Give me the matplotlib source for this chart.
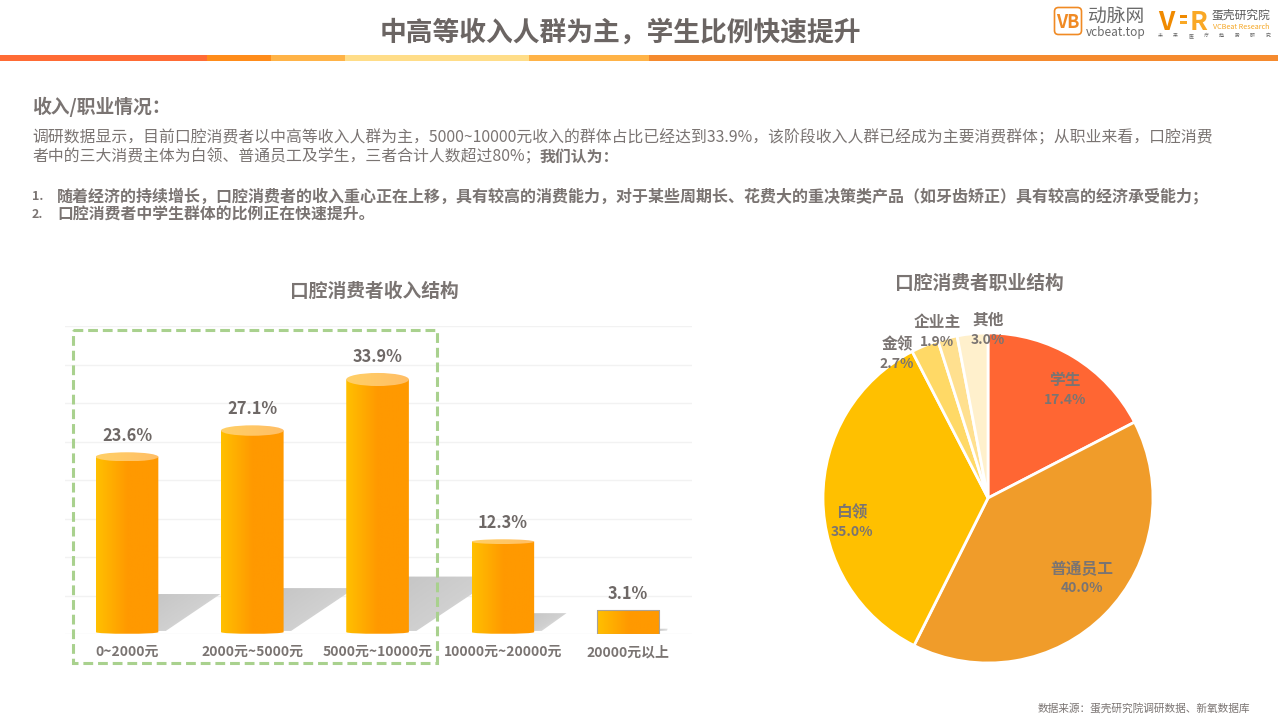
import numpy as np
import matplotlib
matplotlib.use("Agg")
import matplotlib.pyplot as plt
from matplotlib.patches import PathPatch, Ellipse, Rectangle, Polygon, FancyBboxPatch
from matplotlib.path import Path
from matplotlib.colors import LinearSegmentedColormap

plt.rcParams['font.family'] = ['Noto Sans CJK SC', 'DejaVu Sans']

# Data
income_labels = ["0~2000元", "2000元~5000元", "5000元~10000元", "10000元~20000元", "20000元以上"]
income_values = [23.6, 27.1, 33.9, 12.3, 3.1]
job_labels = ["学生", "普通员工", "白领", "金领", "企业主", "其他"]
job_values = [17.4, 40.0, 35.0, 2.7, 1.9, 3.0]
job_colors = ["#FF6633", "#F09C2A", "#FFC000", "#FFD966", "#FFE08F", "#FFF0CC"]

W, H = 1278, 716
GRAY = "#7A7472"
DARK = "#6E6866"

fig = plt.figure(figsize=(W / 100, H / 100), dpi=100)


def axes_px(x0, y0, x1, y1):
    # y measured from top of the picture
    return fig.add_axes([x0 / W, 1 - y1 / H, (x1 - x0) / W, (y1 - y0) / H])


# Page overlay in pixel coordinates
page = fig.add_axes([0, 0, 1, 1], zorder=5)
page.set_xlim(0, W)
page.set_ylim(H, 0)
page.axis("off")
page.patch.set_alpha(0)

# Stripe under the title
stripe_edges = [0, 207, 271, 345, 529, 649, 1278]
stripe_colors = ["#FF6B35", "#FF8C1A", "#FFB347", "#FFDD88", "#FFB347", "#F58A2E"]
for i in range(len(stripe_colors)):
    page.add_patch(Rectangle((stripe_edges[i], 55), stripe_edges[i + 1] - stripe_edges[i], 6,
                             color=stripe_colors[i], lw=0))

page.text(620, 33, "中高等收入人群为主，学生比例快速提升", fontsize=19.3, fontweight="bold",
          color="#6B6563", ha="center", va="center")

# Logos
page.add_patch(FancyBboxPatch((1056, 9), 24, 24, boxstyle="round,pad=1.5,rounding_size=4",
                              fc="white", ec="#F08A24", lw=1.2))
page.text(1068, 22, "VB", fontsize=13, fontweight="bold", color="#F08A24", ha="center", va="center")
page.text(1116, 16, "动脉网", fontsize=13.5, color="#6A6A6A", ha="center", va="center")
page.text(1116, 32.5, "vcbeat.top", fontsize=8.5, color="#6A6A6A", ha="center", va="center")
page.text(1166, 22, "V", fontsize=19, fontweight="bold", color="#F08A00", ha="center", va="center")
page.add_patch(Rectangle((1180, 15), 7, 3, color="#F08A00", lw=0))
page.add_patch(Rectangle((1180, 21), 7, 3, color="#F9A825", lw=0))
page.text(1199, 22, "R", fontsize=19, fontweight="bold", color="#F9A825", ha="center", va="center")
page.text(1241, 15, "蛋壳研究院", fontsize=8.5, color="#5A5A5A", ha="center", va="center")
page.text(1241, 27, "VCBeat Research", fontsize=5.2, color="#F5A623", ha="center", va="center")
for cx, ch in zip(np.linspace(1160, 1268, 8), "未来医疗趋势研究"):
    page.text(cx, 35.5, ch, fontsize=3.5, color="#666666", ha="center", va="center")

# Intro text
page.text(32, 107, "收入/职业情况：", fontsize=13.5, fontweight="bold", color=GRAY, va="center")
page.text(32, 138, "调研数据显示，目前口腔消费者以中高等收入人群为主，5000~10000元收入的群体占比已经达到33.9%，"
          "该阶段收入人群已经成为主要消费群体；从职业来看，口腔消费",
          fontsize=11.4, color=GRAY, va="center")
page.text(32, 157, "者中的三大消费主体为白领、普通员工及学生，三者合计人数超过80%；",
          fontsize=11.4, color=GRAY, va="center")
page.text(540, 157, "我们认为：", fontsize=11.4, fontweight="bold", color=GRAY, va="center")
page.text(32, 196, "1.", fontsize=9, fontweight="bold", color=GRAY, va="center")
page.text(32, 215, "2.", fontsize=9, fontweight="bold", color=GRAY, va="center")
page.text(57, 196, "随着经济的持续增长，口腔消费者的收入重心正在上移，具有较高的消费能力，"
          "对于某些周期长、花费大的重决策类产品（如牙齿矫正）具有较高的经济承受能力；",
          fontsize=11.5, fontweight="bold", color=GRAY, va="center")
page.text(57, 215, "口腔消费者中学生群体的比例正在快速提升。", fontsize=11.4, fontweight="bold",
          color=GRAY, va="center")

page.text(374, 291, "口腔消费者收入结构", fontsize=13.5, fontweight="bold", color=GRAY, ha="center", va="center")
page.text(979, 283, "口腔消费者职业结构", fontsize=13.5, fontweight="bold", color=GRAY, ha="center", va="center")
page.text(1250, 708, "数据来源：蛋壳研究院调研数据、新氧数据库", fontsize=7.7, style="italic",
          color=GRAY, ha="right", va="center")

# Dashed highlight box
page.add_patch(Rectangle((73, 330), 364, 333, fc="none", ec="#A9D18E", lw=2.2, ls=(0, (3.2, 1.6))))

# Bar chart
ax = axes_px(65, 326, 692, 634)
ax.set_xlim(-0.495, 4.51)
ax.set_ylim(0, 40)
ax.set_yticks(np.arange(0, 41, 5))
ax.set_xticks(range(len(income_labels)))
ax.set_xticklabels(income_labels, fontsize=10, fontweight="bold", color=GRAY)
ax.tick_params(length=0, pad=8, labelleft=False)
ax.grid(axis="y", color="#F2F2F2", lw=1)
ax.set_axisbelow(True)
for s in ax.spines.values():
    s.set_visible(False)

bar_cmap = LinearSegmentedColormap.from_list("bar", ["#FFC000", "#FF9900", "#FF9900"])
top_cmap = LinearSegmentedColormap.from_list("top", ["#FFD066", "#FFBE66"])
shadow_cmap = LinearSegmentedColormap.from_list("shadow", ["#C6C6C6", "#D0D0D0", "#F4F4F4"])
grad = np.linspace(0, 1, 128).reshape(1, -1)
# shadow fades to the right and towards the floor
fade = np.add.outer(np.linspace(0, 0.45, 64), np.linspace(0, 0.55, 128))
bar_w = 0.5

for i, v in enumerate(income_values):
    left, right = i - bar_w / 2, i + bar_w / 2
    flat = v < 5
    c = 0 if flat else 0.025 * v

    # cast shadow behind each bar
    sh = v * 0.22
    dx = v * 0.021
    base = min(0.4, sh / 2)
    shadow = Polygon([(right - 0.02, base), (right - 0.02, sh), (right + dx, sh), (right + 0.06, base)],
                     closed=True, fc="none", ec="none")
    ax.add_patch(shadow)
    im = ax.imshow(fade, extent=(right - 0.02, right + dx, base, sh), origin="upper", cmap=shadow_cmap,
                   aspect="auto", zorder=2, vmin=0, vmax=1)
    im.set_clip_path(shadow)

    if flat:
        # short bar is drawn as a plain box with a thin edge
        body = Rectangle((left, 0), bar_w, v, fc="none", ec="#A8A29A", lw=0.8, zorder=4)
        ax.add_patch(body)
        im = ax.imshow(grad, extent=(left, right, 0, v), cmap=bar_cmap, aspect="auto", zorder=3,
                       vmin=0, vmax=1)
    else:
        # cylinder body with a rounded base
        verts = [(left, 0.25), (left, v - c), (right, v - c), (right, 0.25),
                 (right, -0.05), (left, -0.05), (left, 0.25)]
        codes = [Path.MOVETO, Path.LINETO, Path.LINETO, Path.LINETO,
                 Path.CURVE4, Path.CURVE4, Path.CURVE4]
        body = PathPatch(Path(verts, codes), fc="none", ec="none")
        ax.add_patch(body)
        im = ax.imshow(grad, extent=(left, right, -0.1, v - c), cmap=bar_cmap, aspect="auto", zorder=3,
                       vmin=0, vmax=1)
        im.set_clip_path(body)

        # top ellipse
        top = Ellipse((i, v - c), bar_w, 2 * c, fc="none", ec="none")
        ax.add_patch(top)
        im = ax.imshow(grad, extent=(left, right, v - 2 * c, v), cmap=top_cmap, aspect="auto", zorder=4,
                       vmin=0, vmax=1)
        im.set_clip_path(top)

    ax.text(i, v + 0.9, f"{v}%", fontsize=11.8, fontweight="bold", color=DARK, ha="center", va="bottom", zorder=6)

ax.set_xlim(-0.495, 4.51)
ax.set_ylim(0, 40)

# Pie chart
pie_ax = axes_px(823, 333, 1153, 663)
wedges, _ = pie_ax.pie(job_values, colors=job_colors, startangle=90, counterclock=False, radius=1,
                       wedgeprops=dict(edgecolor="white", linewidth=2))
pie_ax.set_xlim(-1, 1)
pie_ax.set_ylim(-1, 1)

# pie labels sit by hand, as in the slide
label_xy = [(1065, 380), (1082, 569), (852, 512), (897, 344), (937, 322), (988, 320)]
for (px, py), lab, val in zip(label_xy, job_labels, job_values):
    page.text(px, py, lab, fontsize=11.3, fontweight="bold", color=GRAY, ha="center", va="center")
    page.text(px, py + 19.5, f"{val}%", fontsize=10, fontweight="bold", color=GRAY, ha="center", va="center")

fig.savefig("out.png", dpi=100)
